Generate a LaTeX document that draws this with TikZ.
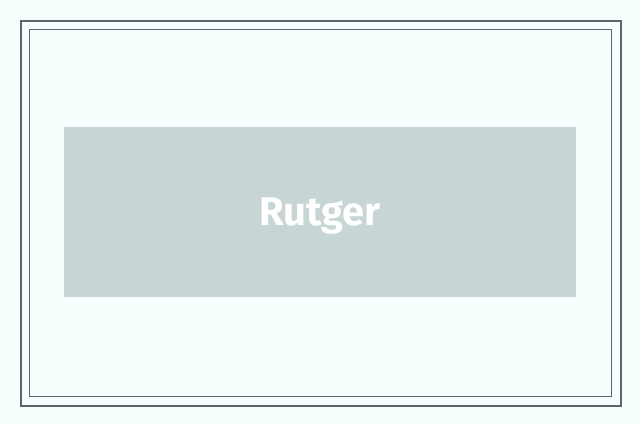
\documentclass[tikz,border=0pt]{standalone}
\usepackage{fontspec}
\setmainfont{Fira Sans}
\definecolor{bgc}{HTML}{F4FFFE}
\definecolor{linec}{HTML}{5A6868}
\definecolor{boxc}{HTML}{C7D5D5}
\begin{document}
\begin{tikzpicture}[x=1pt,y=-1pt,
  frame/.style={draw=linec},
  titlebox/.style={fill=boxc,draw=none,minimum width=512pt,minimum height=170pt,inner sep=0pt},
  titletext/.style={text=white,font=\fontsize{40}{48}\selectfont\bfseries}]
\useasboundingbox (0,0) rectangle (640,425);
\fill[bgc] (0,0) rectangle (640,425);
\draw[frame,line width=2pt] (21,21) rectangle (621,406);
\draw[frame,line width=1pt] (29.5,29.5) rectangle (611.5,396.5);
\node[titlebox] (box) at (320,212) {};
\node[titletext,anchor=base] (title) at (320,225) {Rutger};
\end{tikzpicture}
\end{document}
